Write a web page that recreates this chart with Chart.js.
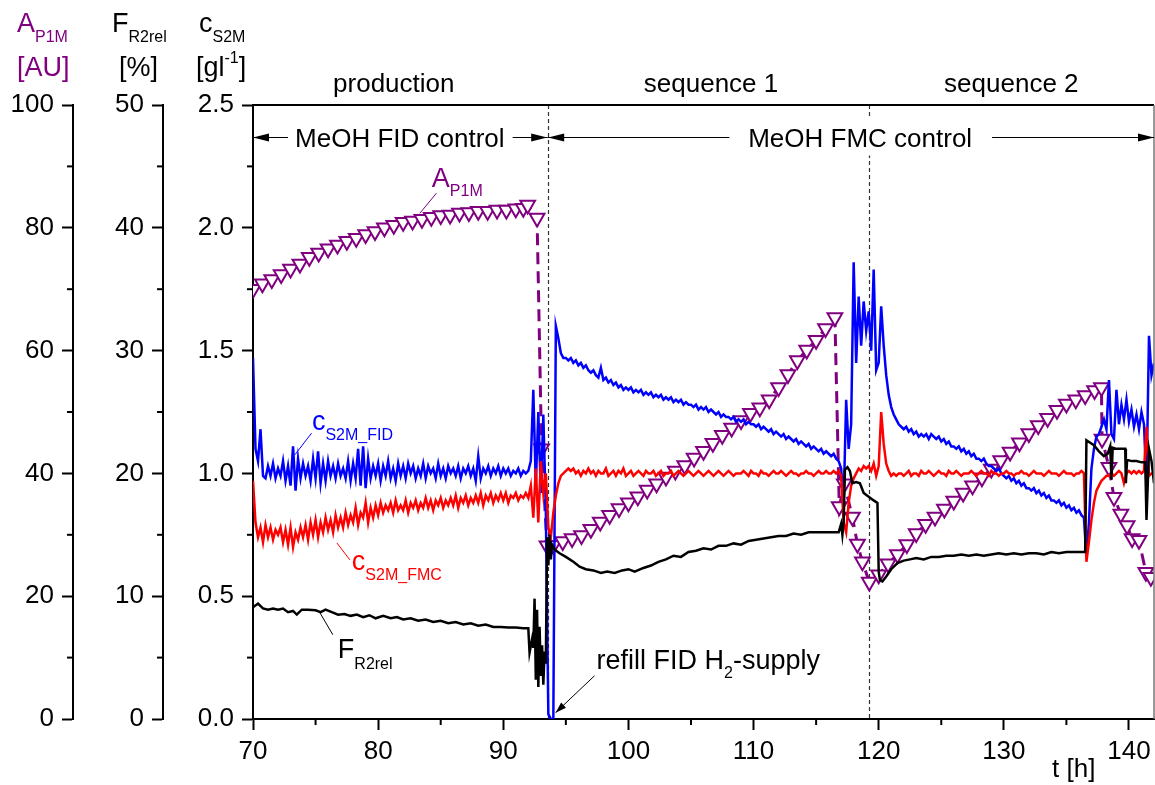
<!DOCTYPE html>
<html>
<head>
<meta charset="utf-8">
<title>MeOH control</title>
<script src="https://cdn.jsdelivr.net/npm/chart.js@4.4.1/dist/chart.umd.min.js"></script>
<style>
  html, body { margin: 0; padding: 0; background: #fff; }
  canvas { display: block; }
</style>
</head>
<body>
<canvas id="chart" width="1155" height="785"></canvas>
<script>
const FONT = '"Liberation Sans", Arial, Helvetica, sans-serif';
const BLUE = '#0000ff', RED = '#ff0000', PURPLE = '#800080';

// c_S2M online signals, logged every 0.2 h from t = 70 h
const sampleStart = 70;
const sampleStep = 0.2;

const cS2mFid = [
  1.47, 1.10, 1.05, 1.18, 0.99,
  0.98, 1.03, 0.99, 1.04, 0.98, 1.02, 0.99, 1.05, 0.97, 1.03,
  0.95, 1.11, 0.93, 1.06, 0.98, 1.04, 0.99, 1.03, 0.97, 1.06,
  0.98, 1.09, 0.96, 1.04, 0.97, 1.05, 0.99, 1.03, 0.98, 1.04,
  0.99, 1.02, 0.98, 1.05, 0.97, 1.04, 0.98, 1.10, 0.95, 1.11,
  0.94, 1.06, 0.98, 1.03, 0.99, 1.04, 0.97, 1.03, 0.99, 1.05,
  0.98, 1.02, 0.97, 1.04, 0.99, 1.03, 0.98, 1.04, 1.00, 1.03,
  0.98, 1.02, 0.99, 1.04, 0.98, 1.03, 1.00, 1.02, 0.98, 1.04,
  0.99, 1.02, 0.98, 1.03, 1.00, 1.02, 0.99, 1.03, 0.98, 1.02,
  1.00, 1.03, 0.99, 1.02, 0.97, 1.07, 0.98, 1.02, 1.00, 1.03,
  0.99, 1.02, 1.00, 1.03, 0.99, 1.02, 1.00, 1.02, 0.99, 1.01,
  1.00, 1.02, 0.99, 1.01, 1.00, 1.01,
  1.05, 1.34, 0.95, 1.25, 0.92, 1.24, 0.85, 0.02, 0.00, 0.00, 1.60, 1.55, 1.49, 1.47,
  1.47, 1.46, 1.47, 1.45, 1.46, 1.44, 1.45, 1.43, 1.44, 1.42,
  1.41, 1.42, 1.40, 1.39, 1.43, 1.38, 1.39, 1.37, 1.38, 1.36,
  1.37, 1.35, 1.36, 1.34, 1.35, 1.34, 1.35, 1.33, 1.34, 1.33,
  1.34, 1.32, 1.33, 1.32, 1.33, 1.31, 1.32, 1.31, 1.32, 1.30,
  1.31, 1.30, 1.31, 1.29, 1.30, 1.29, 1.30, 1.28, 1.29, 1.28,
  1.28, 1.27, 1.28, 1.26, 1.27, 1.26, 1.27, 1.25, 1.26, 1.25,
  1.24, 1.25, 1.23, 1.24, 1.23, 1.23, 1.22, 1.23, 1.21, 1.22,
  1.21, 1.22, 1.20, 1.21, 1.20, 1.20, 1.19, 1.20, 1.18, 1.19,
  1.18, 1.17, 1.18, 1.16, 1.17, 1.16, 1.15, 1.16, 1.14, 1.15,
  1.14, 1.13, 1.14, 1.12, 1.13, 1.12, 1.11, 1.12, 1.10, 1.11,
  1.10, 1.09, 1.10, 1.08, 1.09, 1.08, 1.07, 1.08, 1.06, 1.05,
  1.02, 0.88, 1.30, 1.10, 1.20, 1.86, 1.45, 1.72, 1.52, 1.70,
  1.58, 1.66, 1.50, 1.83, 1.42, 1.45, 1.68, 1.52, 1.40, 1.32,
  1.27, 1.24, 1.22, 1.20,
  1.19,
  1.18, 1.19, 1.17, 1.18, 1.16, 1.17, 1.15, 1.16, 1.15, 1.16,
  1.14, 1.16, 1.15, 1.14, 1.15, 1.13, 1.14, 1.12, 1.13, 1.11,
  1.11, 1.10, 1.11, 1.09, 1.10, 1.08, 1.09, 1.07, 1.08, 1.06,
  1.06, 1.05, 1.06, 1.04, 1.03, 1.03, 1.02, 1.01, 1.02, 1.00,
  0.99, 0.98, 0.99, 0.97, 0.98, 0.96, 0.97, 0.95, 0.96, 0.94,
  0.94, 0.93, 0.94, 0.92, 0.93, 0.91, 0.92, 0.90, 0.91, 0.89,
  0.89, 0.88, 0.89, 0.87, 0.88, 0.86, 0.87, 0.85, 0.86, 0.84,
  0.85, 0.83, 0.82,
  0.66, 0.80, 1.02, 1.10, 1.15, 1.16, 1.19, 1.22, 1.18, 1.38,
  1.16, 1.14, 1.34, 1.20, 1.28, 1.22, 1.30, 1.21, 1.26, 1.19,
  1.24, 1.18, 1.25, 1.20, 0.95, 1.56, 1.40, 1.45
];

const cS2mFmc = [
  0.97, 0.80, 0.74, 0.78, 0.72,
  0.79, 0.74, 0.78, 0.73, 0.77, 0.75, 0.78, 0.72, 0.77, 0.71,
  0.78, 0.70, 0.76, 0.73, 0.78, 0.74, 0.79, 0.73, 0.80, 0.75,
  0.81, 0.74, 0.80, 0.76, 0.82, 0.77, 0.81, 0.76, 0.83, 0.78,
  0.82, 0.78, 0.84, 0.79, 0.83, 0.80, 0.86, 0.79, 0.84, 0.82,
  0.88, 0.80, 0.86, 0.82, 0.87, 0.83, 0.88, 0.84, 0.87, 0.85,
  0.88, 0.84, 0.89, 0.85, 0.87, 0.85, 0.89, 0.84, 0.88, 0.86,
  0.89, 0.85, 0.88, 0.86, 0.90, 0.86, 0.89, 0.85, 0.89, 0.87,
  0.90, 0.86, 0.89, 0.87, 0.90, 0.87, 0.91, 0.86, 0.90, 0.88,
  0.91, 0.87, 0.90, 0.88, 0.91, 0.88, 0.92, 0.87, 0.91, 0.89,
  0.92, 0.88, 0.91, 0.89, 0.92, 0.89, 0.92, 0.88, 0.91, 0.90,
  0.92, 0.89, 0.91, 0.90, 0.92, 0.90,
  0.95, 0.82, 1.02, 0.80, 1.05, 0.92, 1.00, 0.78, 0.74, 0.84, 0.91, 0.96, 0.99, 1.00,
  1.01, 1.02, 1.01, 1.02, 1.00, 1.01, 0.99, 1.01, 1.00, 1.02,
  1.00, 1.01, 0.99, 1.01, 1.00, 1.00, 1.02, 0.99, 1.00, 1.01,
  0.99, 1.01, 1.00, 1.02, 0.99, 1.00, 1.01, 0.99, 1.00, 1.01,
  1.00, 0.99, 1.01, 1.00, 1.00, 1.01, 0.99, 1.00, 1.01, 0.99,
  1.00, 1.00, 1.01, 0.99, 1.00, 1.01, 1.00, 0.99, 1.00, 1.01,
  1.00, 0.99, 1.00, 1.01, 1.00, 0.99, 1.00, 1.01, 1.00, 0.99,
  1.00, 1.01, 1.00, 0.99, 1.00, 1.01, 1.00, 0.99, 1.00, 1.00,
  1.00, 1.01, 1.00, 0.99, 1.01, 1.00, 1.00, 0.99, 1.01, 1.00,
  1.00, 0.99, 1.00, 1.01, 1.00, 1.00, 1.01, 1.00, 0.99, 1.00,
  1.01, 1.00, 1.00, 0.99, 1.00, 1.00, 1.01, 1.00, 1.00, 0.99,
  1.00, 1.01, 1.00, 1.00, 1.01, 1.00, 1.00, 1.01, 1.00, 1.01,
  0.99, 0.80, 0.76, 0.88, 0.95, 0.98, 1.00, 1.02, 1.01, 1.03,
  1.02, 1.03, 1.01, 1.04, 0.99, 1.03, 1.25, 1.12, 1.04, 1.01,
  0.99, 1.00, 0.99, 1.00,
  1.00,
  0.99, 1.00, 1.01, 0.99, 1.00, 1.00, 0.99, 1.01, 1.00, 1.00,
  1.01, 1.00, 0.99, 1.00, 1.01, 1.00, 1.00, 0.99, 1.01, 1.00,
  1.00, 1.01, 1.00, 0.99, 1.00, 1.00, 1.00, 1.01, 1.00, 0.99,
  1.00, 1.01, 1.00, 1.00, 0.99, 1.01, 1.00, 1.00, 0.99, 1.00,
  1.00, 1.01, 1.00, 1.00, 0.99, 1.00, 1.00, 1.01, 1.00, 1.00,
  0.99, 1.00, 1.01, 1.00, 1.00, 1.00, 0.99, 1.00, 1.01, 1.00,
  1.00, 1.00, 0.99, 1.00, 1.01, 1.00, 1.00, 1.00, 0.99, 1.00,
  1.00, 1.01, 1.00,
  0.64, 0.72, 0.81, 0.88, 0.93, 0.95, 0.97, 0.98, 0.99, 0.99,
  1.00, 0.99, 1.00, 1.01, 1.00, 0.96, 1.00, 1.01, 1.00, 1.01,
  1.00, 1.01, 1.00, 1.01, 1.19, 0.99, 1.00, 1.00
];

// F_R2rel [%]
const tF = [
  70.0, 70.4, 70.8, 71.2, 71.6, 72.0, 72.4, 72.8, 73.2, 73.5,
  73.9, 74.4, 75.0, 75.4, 75.8, 76.3, 76.8, 77.3, 77.8, 78.3,
  78.8, 79.3, 79.8, 80.4, 81.0, 81.5, 82.0, 82.6, 83.2, 83.8,
  84.4, 85.0, 85.6, 86.2, 86.8, 87.4, 88.0, 88.6, 89.2, 89.8,
  90.4, 91.0, 91.6, 92.0,
  92.1, 92.3, 92.4, 92.5, 92.6, 92.7, 92.8, 92.9, 93.0, 93.1,
  93.2, 93.3, 93.4, 93.5, 93.6, 93.7, 93.8, 93.9, 94.1, 94.5,
  95.0, 95.6, 96.1, 96.6, 97.2, 97.8, 98.3, 98.9, 99.5, 100.0,
  100.5, 101.2, 101.8, 102.4, 103.0, 103.6, 104.2, 104.8, 105.4, 106.0,
  106.6, 107.2, 107.8, 108.4, 109.0, 109.6, 110.2, 110.8, 111.4, 112.0,
  112.6, 113.2, 113.8, 114.4, 115.0, 115.6, 116.2, 116.8,
  117.0, 117.1, 117.2, 117.3, 117.5, 117.7, 117.9, 118.2, 118.5, 118.8,
  119.2, 119.6, 119.9, 120.0, 120.1, 120.3, 120.6, 121.0, 121.5, 122.0,
  122.5, 123.0, 123.6, 124.2, 124.8, 125.4, 126.0, 126.6, 127.2, 127.8,
  128.4, 129.0, 129.6, 130.2, 130.8, 131.4, 132.0, 132.6, 133.2, 133.8,
  134.4, 135.0, 135.6, 136.2, 136.5,
  136.6, 136.9, 137.2, 137.6, 138.0, 138.3, 138.5, 138.6, 138.7, 139.0,
  139.4, 139.7, 139.75, 139.85, 140.2, 140.6, 141.0, 141.3, 141.4, 141.6,
  141.8, 142.0
];
const fR2rel = [
  9.1, 9.4, 9.0, 8.9, 9.0, 8.9, 9.0, 8.7, 8.8, 8.5,
  8.9, 8.9, 8.85, 8.7, 8.9, 8.7, 8.5, 8.55, 8.4, 8.5,
  8.3, 8.45, 8.2, 8.4, 8.2, 8.3, 8.1, 8.2, 8.0, 8.1,
  7.9, 8.0, 7.8, 7.9, 7.7, 7.8, 7.6, 7.7, 7.5, 7.5,
  7.45, 7.45, 7.4, 7.4,
  5.4, 6.5, 5.8, 9.8, 3.2, 8.9, 2.6, 7.5, 3.5, 6.0,
  2.8, 5.5, 4.5, 14.8, 12.5, 15.0, 13.0, 14.2, 13.8, 13.5,
  13.2, 12.8, 12.4, 12.2, 12.1, 11.9, 12.0, 11.9, 12.1, 12.2,
  12.0, 12.3, 12.5, 12.8, 13.0, 13.3, 13.2, 13.6, 13.7, 13.9,
  13.8, 14.1, 14.1, 14.3, 14.2, 14.5, 14.6, 14.7, 14.8, 14.9,
  14.9, 15.1, 15.0, 15.2, 15.2, 15.2, 15.2, 15.2,
  15.9, 15.0, 16.0, 20.3, 20.5, 20.2, 19.2, 19.3, 19.2, 18.4,
  18.1, 17.8, 17.6, 12.0, 11.3, 11.2, 11.6, 12.2, 12.7, 12.9,
  13.0, 13.1, 13.0, 13.2, 13.2, 13.3, 13.3, 13.4, 13.3, 13.4,
  13.3, 13.4, 13.5, 13.4, 13.5, 13.4, 13.5, 13.5, 13.4, 13.6,
  13.5, 13.6, 13.6, 13.6, 13.6,
  22.7, 22.5, 22.3, 21.8, 21.4, 21.6, 22.2, 19.5, 22.1, 22.0,
  22.0, 22.0, 19.2, 21.1, 21.0, 21.0, 20.9, 20.9, 16.2, 22.0,
  21.0, 19.2
];

// A_P1M [AU]
const tA = [
  70.0, 70.75, 71.5, 72.25, 73.0, 73.75, 74.5, 75.25, 76.0, 76.75,
  77.5, 78.25, 79.0, 79.75, 80.5, 81.25, 82.0, 82.75, 83.5, 84.25,
  85.0, 85.75, 86.5, 87.25, 88.0, 88.75, 89.5, 90.25, 91.0, 91.6,
  91.95, 92.7, 93.06, 93.5,
  94.0, 94.75, 95.5, 96.25, 97.0, 97.75, 98.5, 99.25, 100.0, 100.75,
  101.5, 102.25, 103.0, 103.75, 104.5, 105.25, 106.0, 106.75, 107.5, 108.25,
  109.0, 109.75, 110.5, 111.25, 112.0, 112.75, 113.5, 114.25, 115.0, 115.75,
  116.5,
  116.85, 117.25, 117.9, 118.3, 118.7, 119.25,
  120.0, 120.75, 121.5, 122.25, 123.0, 123.75, 124.5, 125.25, 126.0, 126.75,
  127.5, 128.25, 129.0, 129.75, 130.5, 131.25, 132.0, 132.75, 133.5, 134.25,
  135.0, 135.75, 136.5, 137.25, 137.8,
  137.85, 138.4, 138.8, 139.35, 139.85, 140.25, 140.8, 141.35, 141.75
];
const aP1M = [
  70.0, 70.9, 71.6, 72.4, 73.3, 74.1, 75.2, 75.9, 76.6, 77.2,
  77.8, 78.3, 78.9, 79.4, 80.0, 80.4, 80.9, 81.1, 81.4, 81.7,
  82.0, 82.1, 82.4, 82.5, 82.7, 82.7, 82.9, 82.9, 83.1, 83.2,
  83.7, 81.6, 44.0, 28.2,
  28.3, 28.9, 29.4, 29.9, 30.9, 32.1, 33.2, 34.3, 35.2, 36.2,
  37.3, 38.3, 39.4, 40.4, 41.3, 42.5, 43.6, 44.9, 46.2, 47.4,
  48.6, 49.8, 50.7, 52.0, 54.0, 56.1, 58.4, 60.1, 61.7, 63.6,
  65.4,
  34.6, 38.3, 32.9, 28.5, 25.6, 22.3,
  23.5, 25.3, 26.8, 28.4, 30.2, 31.7, 32.9, 34.2, 35.5, 36.8,
  38.0, 39.3, 40.7, 42.1, 43.5, 45.0, 46.5, 47.8, 49.0, 50.3,
  51.3, 52.0, 52.7, 53.5, 54.0,
  45.6, 41.0, 36.1, 33.4, 31.5, 29.4, 29.1, 23.9, 23.1
];

const phaseBreaks = [93.55, 119.2];
const phaseNames = ['production', 'sequence 1', 'sequence 2'];
const phaseCenters = [81.25, 106.6, 130.6];

const sampled = vals => vals.map((v, i) => ({ x: +(sampleStart + i * sampleStep).toFixed(1), y: v }));
const paired = (ts, vals) => ts.map((t, i) => ({ x: t, y: vals[i] }));

function seg(ctx, x1, y1, x2, y2) {
  ctx.beginPath(); ctx.moveTo(x1, y1); ctx.lineTo(x2, y2); ctx.stroke();
}

// text made of pieces: [text, size, dy]
function rich(ctx, parts, x, y, color) {
  ctx.fillStyle = color;
  ctx.textAlign = 'left';
  ctx.textBaseline = 'alphabetic';
  parts.forEach(([txt, size, dy]) => {
    ctx.font = size + 'px ' + FONT;
    ctx.fillText(txt, x, y + dy);
    x += ctx.measureText(txt).width;
  });
}

function headH(ctx, tipX, y, dir) {
  ctx.beginPath();
  ctx.moveTo(tipX, y);
  ctx.lineTo(tipX - dir * 16, y - 4);
  ctx.lineTo(tipX - dir * 16, y + 4);
  ctx.closePath();
  ctx.fill();
}

const decor = {
  id: 'decor',
  beforeDatasetsDraw(chart) {
    const { ctx, chartArea: a, scales: { x } } = chart;
    ctx.save();
    ctx.strokeStyle = '#333';
    ctx.lineWidth = 1.2;
    ctx.setLineDash([4, 3]);
    phaseBreaks.forEach(t => {
      const px = Math.round(x.getPixelForValue(t)) + 0.5;
      seg(ctx, px, a.top, px, a.bottom);
    });
    ctx.restore();
  },
  afterDraw(chart) {
    const { ctx, chartArea: a, scales } = chart;
    const { x, yA, yF, yC } = scales;
    ctx.save();

    // frame top/right
    ctx.strokeStyle = '#000'; ctx.lineWidth = 2;
    seg(ctx, a.left, a.top, a.right, a.top);
    ctx.strokeStyle = '#777'; ctx.lineWidth = 1.5;
    seg(ctx, a.right, a.top, a.right, a.bottom);

    // minor ticks
    ctx.strokeStyle = '#000'; ctx.lineWidth = 2;
    [75, 85, 95, 105, 115, 125, 135].forEach(v => {
      const p = x.getPixelForValue(v);
      seg(ctx, p, a.bottom, p, a.bottom + 6);
    });
    [[yA, [10, 30, 50, 70, 90]], [yF, [5, 15, 25, 35, 45]], [yC, [0.25, 0.75, 1.25, 1.75, 2.25]]].forEach(([s, vals]) => {
      vals.forEach(v => {
        const p = s.getPixelForValue(v);
        seg(ctx, s.right - 6, p, s.right, p);
      });
    });

    // axis headers
    rich(ctx, [['A', 27, 0], ['P1M', 16, 10]], 17, 32, PURPLE);
    rich(ctx, [['[AU]', 27, 0]], 17, 76, PURPLE);
    rich(ctx, [['F', 27, 0], ['R2rel', 16, 10]], 112, 32, '#000');
    rich(ctx, [['[%]', 27, 0]], 119, 76, '#000');
    rich(ctx, [['c', 27, 0], ['S2M', 16, 10]], 199, 32, '#000');
    rich(ctx, [['[gl', 27, 0], ['-1', 16, -13], [']', 27, 0]], 196, 76, '#000');

    // phase names
    ctx.fillStyle = '#000';
    ctx.font = '26px ' + FONT;
    ctx.textAlign = 'center';
    phaseNames.forEach((n, i) => ctx.fillText(n, x.getPixelForValue(phaseCenters[i]), 92));

    // control mode arrows
    const ry = Math.round(yC.getPixelForValue(2.37)) + 0.5;
    ctx.strokeStyle = '#000'; ctx.lineWidth = 1; ctx.fillStyle = '#000';
    const b = x.getPixelForValue(phaseBreaks[0]);
    seg(ctx, a.left, ry, x.getPixelForValue(72.8), ry);
    headH(ctx, a.left, ry, -1);
    seg(ctx, x.getPixelForValue(90.75), ry, b, ry);
    headH(ctx, b - 0.5, ry, 1);
    seg(ctx, b, ry, x.getPixelForValue(108.07), ry);
    headH(ctx, b + 0.5, ry, -1);
    seg(ctx, x.getPixelForValue(129.06), ry, a.right, ry);
    headH(ctx, a.right, ry, 1);

    ctx.font = '26px ' + FONT;
    ctx.textAlign = 'center';
    ctx.fillText('MeOH FID control', x.getPixelForValue(81.73), ry + 9);
    const fmcX = x.getPixelForValue(118.52);
    const w = ctx.measureText('MeOH FMC control').width;
    ctx.fillStyle = '#fff';
    ctx.fillRect(fmcX - w / 2 - 4, ry - 20, w + 8, 38);
    ctx.fillStyle = '#000';
    ctx.fillText('MeOH FMC control', fmcX, ry + 9);

    // series labels with leader lines
    const P = (t, c) => [x.getPixelForValue(t), yC.getPixelForValue(c)];
    ctx.lineWidth = 1;
    const leaders = [
      [PURPLE, [84.66, 2.141], [83.33, 2.059]],
      [BLUE, [74.68, 1.164], [73.35, 1.076]],
      [RED, [77.74, 0.648], [76.70, 0.717]],
      ['#000', [76.38, 0.343], [75.35, 0.4325]]
    ];
    leaders.forEach(([col, p1, p2]) => {
      ctx.strokeStyle = col;
      const [x1, y1] = P(...p1), [x2, y2] = P(...p2);
      seg(ctx, x1, y1, x2, y2);
    });
    let q = P(84.29, 2.1665);
    rich(ctx, [['A', 27, 0], ['P1M', 16, 9]], q[0], q[1], PURPLE);
    q = P(74.71, 1.177);
    rich(ctx, [['c', 27, 0], ['S2M_FID', 16, 10]], q[0], q[1], BLUE);
    q = P(77.90, 0.608);
    rich(ctx, [['c', 27, 0], ['S2M_FMC', 16, 10]], q[0], q[1], RED);
    q = P(76.78, 0.2495);
    rich(ctx, [['F', 27, 0], ['R2rel', 16, 11]], q[0], q[1], '#000');

    // refill note
    q = P(97.45, 0.2047);
    rich(ctx, [['refill FID H', 27, 0], ['2', 16, 9], ['-supply', 27, 0]], q[0], q[1], '#000');
    const [ax1, ay1] = P(97.29, 0.176), [ax2, ay2] = P(94.18, 0.0257);
    ctx.strokeStyle = '#000';
    seg(ctx, ax1, ay1, ax2, ay2);
    const ang = Math.atan2(ay2 - ay1, ax2 - ax1);
    ctx.beginPath();
    ctx.moveTo(ax2, ay2);
    ctx.lineTo(ax2 - 11 * Math.cos(ang) + 3.5 * Math.sin(ang), ay2 - 11 * Math.sin(ang) - 3.5 * Math.cos(ang));
    ctx.lineTo(ax2 - 11 * Math.cos(ang) - 3.5 * Math.sin(ang), ay2 - 11 * Math.sin(ang) + 3.5 * Math.cos(ang));
    ctx.closePath();
    ctx.fill();

    // x title
    rich(ctx, [['t [h]', 26, 0]], 1052, 777, '#000');
    ctx.restore();
  }
};

const yAxis = (min, max, step, weight, width, fmt) => ({
  type: 'linear',
  position: 'left',
  min, max, weight,
  afterFit: s => { s.width = width; },
  ticks: {
    stepSize: step,
    color: '#000',
    padding: 8,
    font: { family: FONT, size: 26 },
    callback: fmt
  },
  grid: { drawOnChartArea: false, drawTicks: true, tickLength: 11, tickWidth: 2, tickColor: '#000' },
  border: { display: true, color: '#000', width: 2 }
});

new Chart(document.getElementById('chart'), {
  type: 'line',
  data: {
    datasets: [
      { label: 'F_R2rel', data: paired(tF, fR2rel), yAxisID: 'yF', borderColor: '#000', borderWidth: 2.5, pointRadius: 0 },
      { label: 'c_S2M_FMC', data: sampled(cS2mFmc), yAxisID: 'yC', borderColor: RED, borderWidth: 2.5, pointRadius: 0 },
      { label: 'c_S2M_FID', data: sampled(cS2mFid), yAxisID: 'yC', borderColor: BLUE, borderWidth: 2.5, pointRadius: 0 },
      {
        label: 'A_P1M', data: paired(tA, aP1M), yAxisID: 'yA',
        borderColor: PURPLE, borderWidth: 3, borderDash: [12, 7],
        pointStyle: 'triangle', pointRotation: 180, pointRadius: 8.5,
        pointBorderWidth: 2, pointBorderColor: PURPLE, pointBackgroundColor: '#fff'
      }
    ]
  },
  options: {
    responsive: false,
    animation: false,
    events: [],
    layout: { autoPadding: false, padding: { top: 105, right: 1, left: 0, bottom: 0 } },
    elements: { line: { tension: 0 } },
    plugins: { legend: { display: false }, tooltip: { enabled: false } },
    scales: {
      x: {
        type: 'linear',
        position: 'bottom',
        min: 70, max: 142,
        afterFit: s => {
          s.height = 66;
          s.paddingLeft = 0; s.paddingRight = 0;
        },
        ticks: {
          stepSize: 10,
          includeBounds: false,
          autoSkip: false,
          maxRotation: 0,
          color: '#000',
          padding: 6,
          font: { family: FONT, size: 26 }
        },
        grid: { drawOnChartArea: false, drawTicks: true, tickLength: 11, tickWidth: 2, tickColor: '#000' },
        border: { display: true, color: '#000', width: 2 }
      },
      yA: yAxis(0, 100, 20, 2, 73, v => String(v)),
      yF: yAxis(0, 50, 10, 1, 90, v => String(v)),
      yC: yAxis(0, 2.5, 0.5, 0, 90, v => v.toFixed(1))
    }
  },
  plugins: [decor]
});
</script>
</body>
</html>
